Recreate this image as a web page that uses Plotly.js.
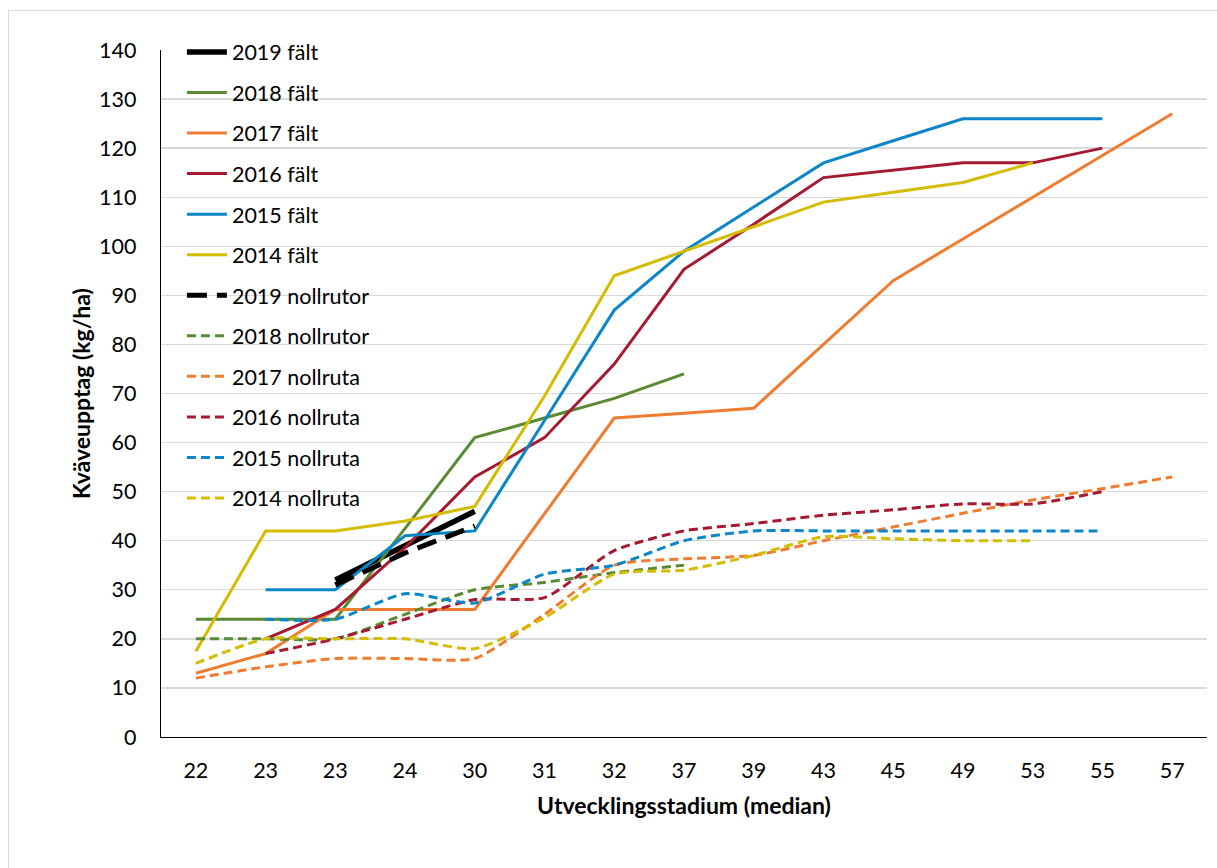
<!DOCTYPE html>
<html>
<head>
<meta charset="utf-8">
<script src="https://cdn.plot.ly/plotly-3.0.1.min.js"></script>
<style>
html,body{margin:0;padding:0;background:#fff;overflow:hidden;width:1217px;height:868px;}
#frame{position:absolute;left:8px;top:10px;width:1300px;height:900px;border:1px solid #d9d9d9;box-sizing:border-box;}
#chart{position:absolute;left:0;top:0;width:1217px;height:868px;}
</style>
</head>
<body>
<div id="frame"></div>
<div id="chart"></div>
<script>
// Category tick labels (growth stage, median) – note duplicate "23"
const stages = ["22","23","23","24","30","31","32","37","39","43","45","49","53","55","57"];

// Field series (kg N/ha)
const falt2019 = [null,null,32,39,46,null,null,null,null,null,null,null,null,null,null];
const falt2018 = [24,24,24,42.5,61,65,69,74,null,null,null,null,null,null,null];
const falt2017 = [13,17,26,26,26,45.5,65,66,67,80,93,101.5,110,118.5,127];
const falt2016 = [null,20,26,38.6,53,61,76,95.3,104.5,114,115.5,117,117,120,null];
const falt2015 = [null,30,30,41,42,64.5,87,99,108,117,121.5,126,126,126,null];
const falt2014 = [17.5,42,42,44,47,69.5,94,99,104,109,111,113,117,null,null];

// Zero-plot series (kg N/ha)
const noll2019 = [null,null,31,37.5,43,null,null,null,null,null,null,null,null,null,null];
const noll2018 = [20,20,20,25,30,31.5,33.5,35,null,null,null,null,null,null,null];
const noll2017 = [12,14.3,16,16,16,25,35,36.3,37,40,42.8,45.6,48.3,50.6,53];
const noll2016 = [null,17,20,24,28,28.4,38,42,43.5,45.2,46.3,47.5,47.5,50,null];
const noll2015 = [null,24,24,29.2,27.3,33.2,35,40,42,42,42,42,42,42,null];
const noll2014 = [15,20,20,20,18,24.3,33.2,34,37,40.8,40.4,40,40,null,null];

const xIdx = stages.map((_, i) => i);

const colors = {
  c2019: "#000000",
  c2018: "#5A8A33",
  c2017: "#EF7D31",
  c2016: "#A51A31",
  c2015: "#0C86C6",
  c2014: "#D4BC00"
};

function tr(name, y, color, width, dash, smooth, group) {
  return {
    type: "scatter", mode: "lines", name: name,
    x: xIdx, y: y, connectgaps: false,
    legendgroup: group,
    line: {color: color, width: width, dash: dash || "solid",
           shape: smooth ? "spline" : "linear", smoothing: smooth ? 0.6 : 0}
  };
}

const dashShort = "9px,5px";
const data = [
  tr("2019 fält", falt2019, colors.c2019, 5.5, "solid", false, "g1"),
  tr("2018 fält", falt2018, colors.c2018, 3, "solid", false, "g2"),
  tr("2017 fält", falt2017, colors.c2017, 3, "solid", false, "g3"),
  tr("2016 fält", falt2016, colors.c2016, 3, "solid", false, "g4"),
  tr("2015 fält", falt2015, colors.c2015, 3, "solid", false, "g5"),
  tr("2014 fält", falt2014, colors.c2014, 3, "solid", false, "g6"),
  tr("2019 nollrutor", noll2019, colors.c2019, 5, "20px,10px", false, "g7"),
  tr("2018 nollrutor", noll2018, colors.c2018, 3, dashShort, true, "g8"),
  tr("2017 nollruta", noll2017, colors.c2017, 3, dashShort, true, "g9"),
  tr("2016 nollruta", noll2016, colors.c2016, 3, dashShort, true, "g10"),
  tr("2015 nollruta", noll2015, colors.c2015, 3, dashShort, true, "g11"),
  tr("2014 nollruta", noll2014, colors.c2014, 3, dashShort, true, "g12")
];

const fontFam = "Lato, 'Open Sans', sans-serif";
const layout = {
  width: 1217, height: 868,
  margin: {l: 161, r: 10, t: 50, b: 131},
  paper_bgcolor: "rgba(0,0,0,0)",
  plot_bgcolor: "rgba(0,0,0,0)",
  font: {family: fontFam, size: 21.5, color: "#000"},
  showlegend: true,
  legend: {
    x: 0.02, y: 1.027, xanchor: "left", yanchor: "top",
    bgcolor: "rgba(0,0,0,0)", borderwidth: 0,
    font: {family: fontFam, size: 21.5, color: "#000"},
    tracegroupgap: 9.6, itemwidth: 40, maxheight: 800
  },
  xaxis: {
    range: [-0.5, 14.5],
    tickmode: "array", tickvals: xIdx, ticktext: stages,
    showgrid: false, zeroline: false,
    showline: true, linecolor: "#000", linewidth: 1.3,
    ticks: "", ticklen: 0, ticklabelstandoff: 14,
    tickfont: {family: fontFam, size: 21.5, color: "#000"},
    title: {text: "<b>Utvecklingsstadium (median)</b>", font: {family: fontFam, size: 23, color: "#000"}, standoff: 15},
    automargin: false, fixedrange: true
  },
  yaxis: {
    range: [0, 140], dtick: 10, tick0: 0,
    showgrid: true, gridcolor: "#d9d9d9", gridwidth: 1.3,
    zeroline: false,
    showline: true, linecolor: "#000", linewidth: 1.3,
    ticks: "", ticklen: 0, ticklabelstandoff: 19,
    tickfont: {family: fontFam, size: 21.5, color: "#000"},
    title: {text: "<b>Kväveupptag (kg/ha)</b>", font: {family: fontFam, size: 23, color: "#000"}, standoff: 2},
    automargin: false, fixedrange: true
  }
};

Plotly.newPlot("chart", data, layout, {displayModeBar: false, staticPlot: true});
</script>
</body>
</html>
